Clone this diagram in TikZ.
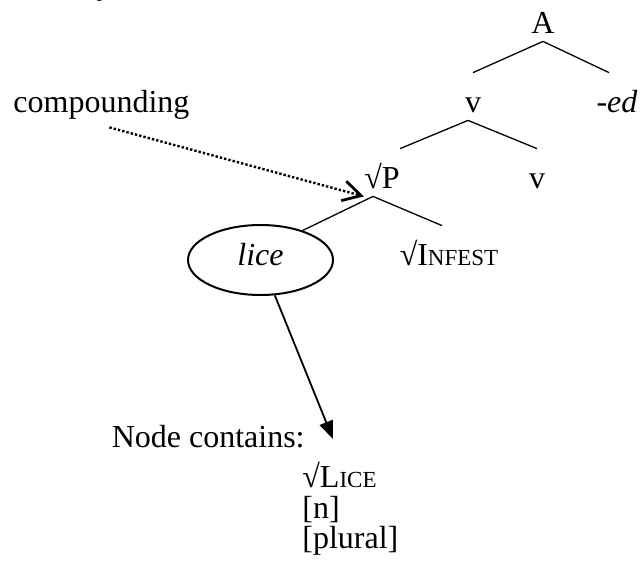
\documentclass[tikz,border=0pt]{standalone}
\usepackage{fontspec}
\setmainfont{Liberation Serif}
\usetikzlibrary{arrows.meta,shapes.geometric,positioning}
\newcommand{\fsc}[1]{{\fontsize{11.5}{13}\selectfont #1}}

\begin{document}
\begin{tikzpicture}[x=0.5pt,y=-0.5pt,
		font=\fontsize{16}{19}\selectfont,
		lbl/.style={inner sep=0pt,text height=19.5pt,text depth=4pt,anchor=base},
		branch/.style={line width=0.65pt},
		marker/.style={line width=1.2pt,dash pattern=on 1.2pt off 1pt,-{Straight Barb[length=9pt,width=10pt,line width=1.4pt]}},
		pointer/.style={line width=0.9pt,-{Triangle[length=9pt,width=7pt]}},
	]
	\useasboundingbox (0,0) rectangle (642,568);
	\node[anchor=base,font=\fontsize{16}{19}\selectfont\itshape] (cut) at (107,-6) {y};
	%% tree
	\node[lbl] (A) at (543,33) {A};
	\node[lbl] (v1) at (473,112) {v};
	\node[lbl] (ed) at (617,112) {-\textit{ed}};
	\node[lbl] (P) at (382,188) {√P};
	\node[lbl] (v2) at (537,188) {v};
	\node[ellipse,draw,line width=1pt,minimum width=72.5pt,minimum height=35pt,inner sep=0pt,
		text height=11pt,text depth=5.5pt] (lice) at (260.5,260) {\textit{lice}};
	\node[lbl] (inf) at (449,265) {√I\fsc{NFEST}};
	%% labels
	\node[lbl,anchor=base west] (comp) at (13,112) {compounding};
	\node[lbl,anchor=base east] (cont) at (305,447) {Node contains:};
	\node[lbl,anchor=base west] (lroot) at (302,487) {√L\fsc{ICE}};
	\node[lbl,anchor=base west] (lnum) at (302,518) {[n]};
	\node[lbl,anchor=base west] (lpl) at (302,548) {[plural]};
	\coordinate (tip) at (333,439);

	\draw[branch] (A.south) -- (v1.north);
	\draw[branch] (A.south) -- ([xshift=-4pt]ed.north);
	%%
	\draw[branch] ([xshift=-2.5pt]v1.south) -- (P.north east);
	\draw[branch] ([xshift=-2.5pt]v1.south) -- (v2.north);
	%%
	\draw[branch] ([xshift=-4.5pt]P.south) -- (lice.35);
	\draw[branch] ([xshift=-4.5pt]P.south) -- ([xshift=-3.5pt]inf.north);
	%%
	\draw[marker] ([shift={(8,7)}]comp.south) -- (P.south west);
	\draw[pointer] (lice) -- (tip);
\end{tikzpicture}
\end{document}
